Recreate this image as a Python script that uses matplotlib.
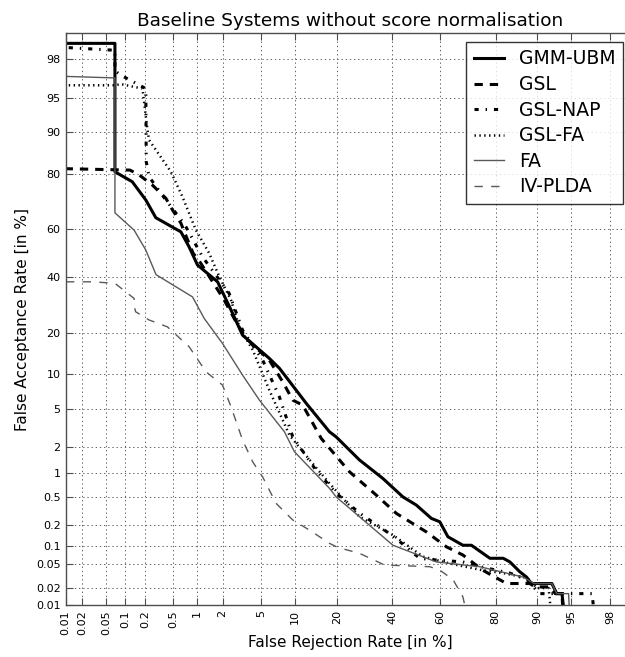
#!/usr/bin/env python
# -*- coding: utf-8 -*-

import math
import numpy as np
import matplotlib
matplotlib.use('Agg')
from matplotlib import pyplot as plt

# DET points: false rejection / false acceptance rates in %
gmm_frr = [0.005, 0.07, 0.07, 0.13, 0.207, 0.288, 0.63, 0.80, 1.02, 1.76, 2.48, 3.28, 4.48,
           5.97, 7.34, 10.15, 12.2, 17.9, 19.8, 27.4, 36.2, 44.4, 50.1, 56.4, 59.9, 63.2,
           69.0, 72.1, 78.3, 82.2, 84.0, 86.4, 87.9, 88.95, 92.5, 93.2, 93.9, 94.3]
gmm_far = [98.67, 98.67, 80.5, 77.5, 71.3, 64.6, 58.9, 52.7, 45.0, 38.1, 27.4, 19.3, 16.1,
           13.3, 11.2, 7.39, 5.61, 2.95, 2.61, 1.44, 0.863, 0.50, 0.387, 0.253, 0.226, 0.136,
           0.101, 0.101, 0.063, 0.063, 0.055, 0.038, 0.031, 0.024, 0.024, 0.016, 0.016, 0.005]

gsl_frr = [0.005, 0.12, 0.165, 0.258, 0.397, 0.488, 0.63, 0.80, 0.9, 1.12, 2.09, 2.8, 3.56,
           5.97, 7.85, 9.53, 11.45, 15.7, 24.0, 33.6, 41.7, 54.3, 62.6, 69.0, 76.1, 83.1,
           88.6, 89.6, 92.2, 93.0, 93.9, 94.1]
gsl_far = [81.5, 81.0, 79.6, 76.4, 71.9, 67.6, 62.4, 54.1, 50.0, 45.7, 31.0, 23.4, 18.4,
           12.9, 8.7, 6.02, 5.41, 2.51, 1.04, 0.528, 0.297, 0.161, 0.0955, 0.071, 0.040, 0.024,
           0.024, 0.021, 0.021, 0.016, 0.016, 0.005]

nap_frr = [0.005, 0.07, 0.07, 0.087, 0.207, 0.21, 0.231, 0.397, 0.7, 1.17, 2.37, 3.28, 5.18,
           7.34, 9.53, 14.4, 19.8, 27.4, 40.3, 51.5, 56.4, 69.0, 76.1, 84.0, 88.0, 90.5,
           96.9, 97.1]
nap_far = [98.55, 98.4, 97.3, 97.0, 95.9, 83.3, 79.0, 71.3, 62.0, 48.5, 33.5, 20.8, 12.9,
           6.45, 2.61, 1.09, 0.56, 0.30, 0.14, 0.063, 0.06, 0.055, 0.045, 0.036, 0.028, 0.016,
           0.016, 0.005]

gslfa_frr = [0.005, 0.07, 0.087, 0.185, 0.219, 0.231, 0.465, 0.66, 0.975, 1.41, 1.84, 2.48,
             3.03, 4.15, 5.97, 8.95, 13.6, 17.9, 27.4, 40.3, 52.9, 63.9, 76.1, 82.2, 88.0,
             90.0, 92.0, 92.5]
gslfa_far = [96.2, 96.2, 96.3, 95.9, 90.3, 88.4, 80.5, 72.4, 59.6, 49.9, 40.2, 31.0,
             21.8, 15.3, 7.39, 2.72, 1.31, 0.748, 0.267, 0.144, 0.067, 0.052, 0.040, 0.036, 0.030,
             0.020, 0.020, 0.005]

fa_frr = [0.005, 0.07, 0.07, 0.139, 0.207, 0.29, 0.885, 1.23, 2.0, 3.28, 4.82, 8.12, 9.84,
          17.9, 19.8, 40.3, 58.5, 75.0, 87.1, 89.5, 92.5, 93.2, 94.7, 94.86]
fa_far = [96.95, 96.8, 66.5, 59.6, 51.3, 41.0, 32.2, 24.5, 17.0, 9.87, 6.02, 2.95, 1.79,
          0.646, 0.50, 0.101, 0.055, 0.046, 0.031, 0.024, 0.024, 0.016, 0.016, 0.005]

iv_frr = [0.005, 0.03, 0.07, 0.139, 0.139, 0.146, 0.231, 0.417, 0.804, 1.29, 2.0, 2.48, 3.28,
          4.15, 5.18, 6.86, 9.53, 12.9, 17.9, 20.3, 27.4, 36.9, 55.7, 59.9, 65.2, 69.0, 71.0]
iv_far = [38.1, 38.1, 37.5, 31.6, 29.2, 26.8, 24.0, 21.8, 16.1, 10.5, 8.16, 5.22, 2.41,
          1.37, 0.90, 0.41, 0.24, 0.171, 0.108, 0.0935, 0.0755, 0.049, 0.046, 0.0404, 0.028,
          0.014, 0.005]

ticks = [0.01, 0.02, 0.05, 0.1, 0.2, 0.5, 1, 2, 5, 10, 20, 40, 60, 80, 90, 95, 98]
tick_labels = ['0.01', '0.02', '0.05', '0.1', '0.2', '0.5', '1', '2', '5', '10', '20',
               '40', '60', '80', '90', '95', '98']

# normal deviate scale (percent <-> probit) from a dense lookup table
_z = np.linspace(-6, 6, 6001)
_p = 50.0 * (1.0 + np.vectorize(math.erf)(_z / math.sqrt(2.0)))


def probit(v):
    return np.interp(v, _p, _z)


def inv_probit(z):
    return np.interp(z, _z, _p)


plt.rcParams['lines.scale_dashes'] = False
plt.rcParams['font.family'] = 'DejaVu Sans'

fig = plt.figure(figsize=(6.25, 6.57), dpi=100)
ax = fig.add_axes([0.1048, 0.0791, 0.912, 0.8706])
ax.set_xscale('function', functions=(probit, inv_probit))
ax.set_yscale('function', functions=(probit, inv_probit))

ax.plot(gmm_frr, gmm_far, color='k', lw=2.2, ls='-', label='GMM-UBM')
ax.plot(gsl_frr, gsl_far, color='k', lw=2.2, ls=(0, (6, 5)), label='GSL')
ax.plot(nap_frr, nap_far, color='k', lw=2.2, ls=(0, (3, 5, 1, 5)), label='GSL-NAP')
ax.plot(gslfa_frr, gslfa_far, color='k', lw=1.8, ls=(0, (1, 2.5)), label='GSL-FA')
ax.plot(fa_frr, fa_far, color='0.35', lw=1.0, ls='-', label='FA')
ax.plot(iv_frr, iv_far, color='0.35', lw=1.0, ls=(0, (6, 6)), label='IV-PLDA')

ax.set_xlim(0.01, 99)
ax.set_ylim(0.01, 99)
ax.set_xticks(ticks, tick_labels, rotation=90, fontsize=8)
ax.set_yticks(ticks, tick_labels, fontsize=8)
ax.minorticks_off()
ax.tick_params(direction='in', length=5, top=True, right=True, color='0.3')
ax.grid(True, color='0.4', ls=(0, (1, 2)), lw=0.7)
for s in ax.spines.values():
    s.set_color('0.3')
    s.set_linewidth(1.0)

ax.set_title('Baseline Systems without score normalisation', fontsize=13.3, pad=5)
ax.set_xlabel('False Rejection Rate [in %]', fontsize=11, labelpad=0)
ax.set_ylabel('False Acceptance Rate [in %]', fontsize=11)

leg = ax.legend(loc='upper right', bbox_to_anchor=(623 / 625, 1 - 42 / 657),
                bbox_transform=fig.transFigure, borderaxespad=0, fontsize=13.5,
                handlelength=1.6, handletextpad=0.8, labelspacing=0.35, fancybox=False)
leg.get_frame().set_edgecolor('k')
leg.get_frame().set_linewidth(1.0)

fig.savefig('out.png', dpi=100)
